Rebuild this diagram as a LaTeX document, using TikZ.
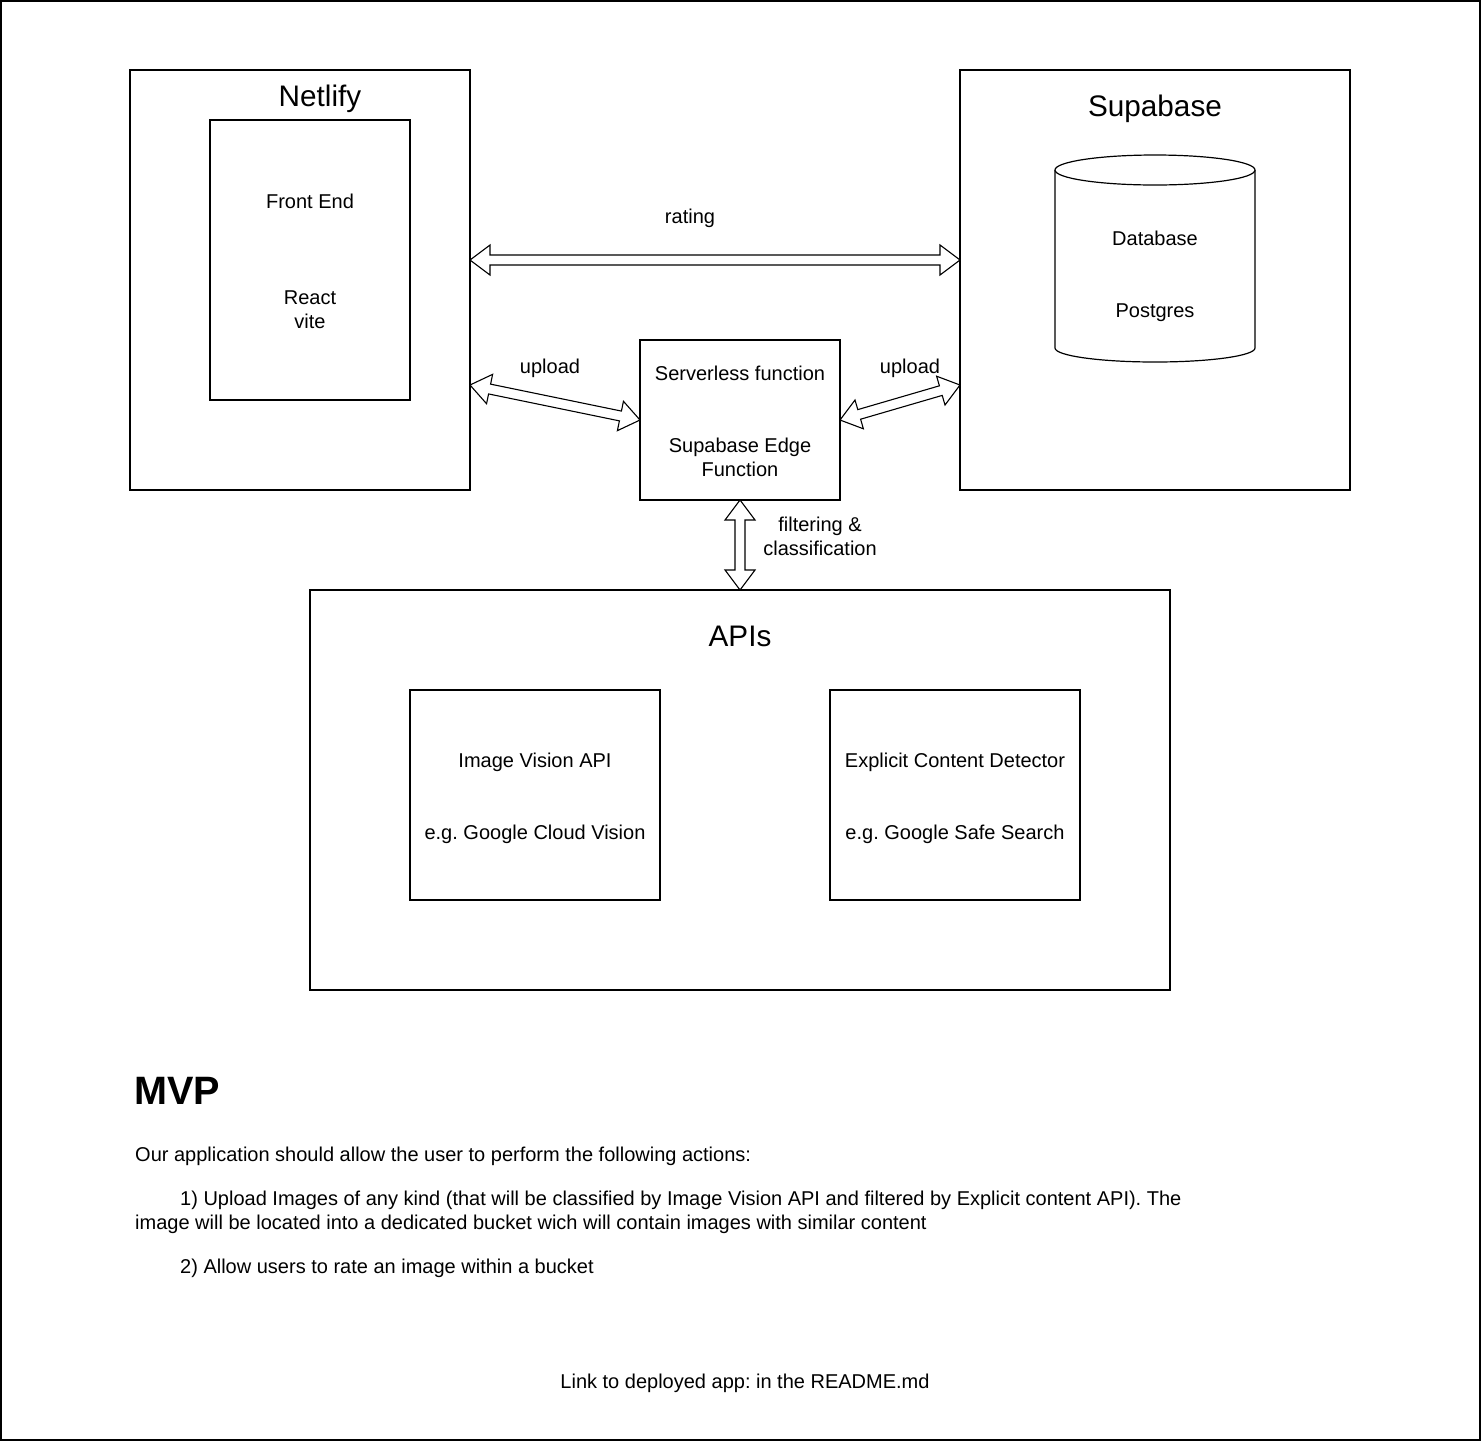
\documentclass[tikz,border=0pt]{standalone}
\usepackage{fontspec}
\setmainfont{Liberation Sans}
\usetikzlibrary{calc}
\frenchspacing
\newcommand\fatarrow[2]{%
  \coordinate (fa1) at ($(#1)!20pt!(#2)$);
  \coordinate (fa2) at ($(#2)!20pt!(#1)$);
  \draw[conn]
    (#1) -- ($(fa1)!15pt!90:(#2)$) -- ($(fa1)!5pt!90:(#2)$)
    -- ($(fa2)!5pt!-90:(#1)$) -- ($(fa2)!15pt!-90:(#1)$) -- (#2)
    -- ($(fa2)!15pt!90:(#1)$) -- ($(fa2)!5pt!90:(#1)$)
    -- ($(fa1)!5pt!-90:(#2)$) -- ($(fa1)!15pt!-90:(#2)$) -- cycle;
}
\begin{document}
\frenchspacing
\begin{tikzpicture}[x=1pt,y=-1pt,
  box/.style={draw, line width=1.2pt, fill=white, inner sep=0pt, outer sep=0pt, anchor=north west},
  conn/.style={draw, line width=1.1pt, fill=white, line join=miter},
  txt/.style={font=\fontsize{20}{24}\selectfont, inner sep=0pt, text height=0.72em, text depth=0.2em},
  lft/.style={txt, anchor=west},
  ttl/.style={font=\fontsize{29.7}{35.6}\selectfont, inner sep=0pt, text height=0.72em, text depth=0.2em},
  ]
\useasboundingbox (0,0) rectangle (1482,1452);
\fill[white] (0,0) rectangle (1482,1452);
\draw[line width=1.4pt] (1,1) rectangle (1480,1440);

% Netlify
\node[box, minimum width=340, minimum height=420] (netlify) at (130,70) {};
\node[ttl] (netlifyT) at (320,104) {Netlify};
\node[box, minimum width=200, minimum height=280] (front) at (210,120) {};
\node[txt] (frontA) at (310,206) {Front End};
\node[txt] (frontB) at (310,302) {React};
\node[txt] (frontC) at (310,326) {vite};

% Supabase
\node[box, minimum width=390, minimum height=420] (supabase) at (960,70) {};
\node[ttl] (supabaseT) at (1155,114) {Supabase};
\draw[line width=1.2pt, fill=white] (1055,170) -- (1055,348)
  arc[start angle=180, end angle=0, x radius=100, y radius=14] -- (1255,170);
\draw[line width=1.2pt, fill=white] (1155,170) ellipse [x radius=100, y radius=15];
\node[txt] (dbA) at (1155,243) {Database};
\node[txt] (dbB) at (1155,315) {Postgres};

% Edge function
\node[box, minimum width=200, minimum height=160] (edge) at (640,340) {};
\node[txt] (edgeA) at (740,378) {Serverless function};
\node[txt] (edgeB) at (740,450) {Supabase Edge};
\node[txt] (edgeC) at (740,474) {Function};

% APIs
\node[box, minimum width=860, minimum height=400] (apis) at (310,590) {};
\node[ttl] (apisT) at (740,644) {APIs};
\node[box, minimum width=250, minimum height=210] (vision) at (410,690) {};
\node[txt] (visionA) at (535,765) {Image Vision API};
\node[txt] (visionB) at (535,837) {e.g. Google Cloud Vision};
\node[box, minimum width=250, minimum height=210] (explicit) at (830,690) {};
\node[txt] (explicitA) at (955,765) {Explicit Content Detector};
\node[txt] (explicitB) at (955,837) {e.g. Google Safe Search};

% connectors
\coordinate (r1) at ($(netlify.north east)+(0,190)$);
\coordinate (r2) at ($(supabase.north west)+(0,190)$);
\fatarrow{r1}{r2}
\node[txt] (ratingL) at (690,221) {rating};

\coordinate (u1) at ($(netlify.north east)+(0,315)$);
\fatarrow{u1}{edge.west}
\node[txt] (uploadL) at (550,371) {upload};

\coordinate (u2) at ($(supabase.north west)+(0,315)$);
\fatarrow{edge.east}{u2}
\node[txt] (uploadR) at (910,371) {upload};

\fatarrow{edge.south}{apis.north}
\node[txt] (filterL) at (820,529) {filtering \&};
\node[txt] (filterM) at (820,553) {classification};

% MVP text
\node[anchor=west, inner sep=0pt, font=\fontsize{39.6}{47}\selectfont\bfseries] (mvp) at (134,1091) {MVP};
\node[lft] (p0) at (135,1159) {Our application should allow the user to perform the following actions:};
\node[lft] (p1) at (180,1203) {1) Upload Images of any kind (that will be classified by Image Vision API and filtered by Explicit content API). The};
\node[lft] (p1b) at (135,1227) {image will be located into a dedicated bucket wich will contain images with similar content};
\node[lft] (p2) at (180,1271) {2) Allow users to rate an image within a bucket};
\node[txt] (link) at (745,1386) {Link to deployed app: in the README.md};
\end{tikzpicture}
\end{document}
